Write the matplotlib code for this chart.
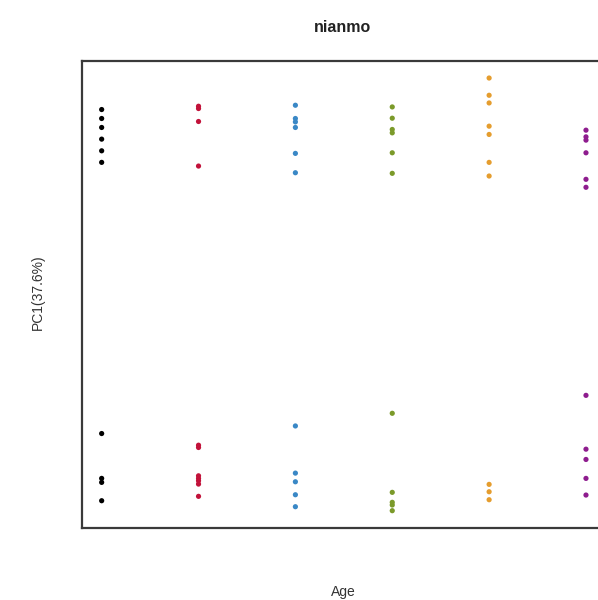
import numpy as np
import matplotlib
matplotlib.use("Agg")
import matplotlib.pyplot as plt

plt.rcParams["font.family"] = ["Liberation Sans", "DejaVu Sans"]

# PC1 scores per age group (group index 1..6)
pc1_g1 = [19.07, 18.17, 17.27, 16.10, 14.93, 13.77, -13.43, -17.93, -18.33, -20.17]
pc1_g2 = [19.40, 19.17, 17.87, 13.40, -14.60, -14.83, -17.67, -17.93, -18.17, -18.50, -19.73]
pc1_g3 = [19.50, 18.17, 17.83, 17.27, 14.67, 12.73, -12.67, -17.40, -18.27, -19.57, -20.77]
pc1_g4 = [19.33, 18.20, 17.07, 16.73, 14.73, 12.67, -11.40, -19.33, -20.33, -20.60, -21.17]
pc1_g5 = [22.23, 20.50, 19.73, 17.40, 16.57, 13.77, 12.40, -18.53, -19.27, -20.07]
pc1_g6 = [17.00, 16.33, 16.00, 14.73, 12.07, 11.27, -9.60, -15.00, -16.03, -17.93, -19.60]

groups = [pc1_g1, pc1_g2, pc1_g3, pc1_g4, pc1_g5, pc1_g6]
colors = ["#000000", "#C2123A", "#3A88C6", "#7B9A2A", "#E59D2E", "#8E1C8E"]

fig = plt.figure(figsize=(5.98, 6.0), dpi=100)
ax = fig.add_axes([0.1376, 0.12, 0.8747, 0.7788])

for i, (vals, c) in enumerate(zip(groups, colors), start=1):
    ax.scatter(np.full(len(vals), i), vals, s=14, color=c, edgecolors="none", zorder=3)

# R-style 4% padding around data range
allv = np.concatenate([np.asarray(g) for g in groups])
pad = 0.04 * (allv.max() - allv.min())
ax.set_ylim(allv.min() - pad, allv.max() + pad)
ax.set_xlim(1 - 0.2, 6 + 0.2)
ax.set_xticks([]); ax.set_yticks([])
for s in ax.spines.values():
    s.set_color("#3a3a3a"); s.set_linewidth(1.6)

fig.text(343 / 598, 1 - 28 / 600, "nianmo", ha="center", va="center",
         fontsize=11.5, fontweight="bold", color="#222222")
fig.text(343 / 598, 1 - 592 / 600, "Age", ha="center", va="center",
         fontsize=10, color="#333333")
fig.text(38 / 598, 1 - 292 / 600, "PC1(37.6%)", ha="center", va="center",
         rotation=90, fontsize=10, color="#333333")

fig.savefig("out.png", dpi=100)
